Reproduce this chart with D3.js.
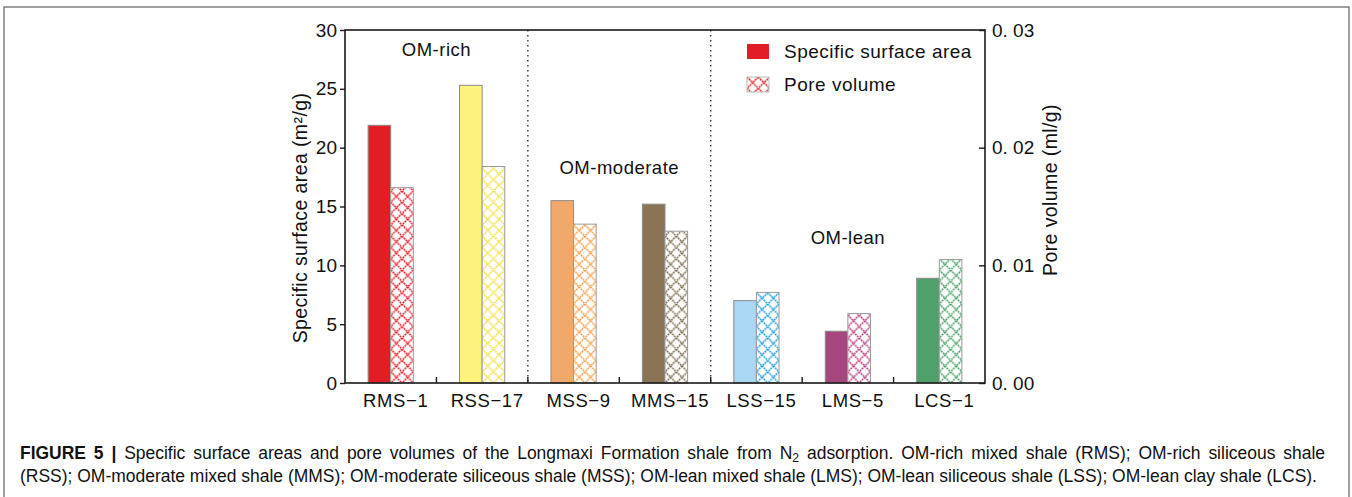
<!DOCTYPE html>
<html>
<head>
<meta charset="utf-8">
<script src="https://cdn.jsdelivr.net/npm/d3@7"></script>
<style>
  html, body { margin: 0; padding: 0; background: #fff; }
  svg { display: block; }
  text { font-family: "Liberation Sans", Arial, sans-serif; fill: #111; }
</style>
</head>
<body>
<svg id="chart" width="1352" height="497"></svg>
<script>
// Samples and measured values (N2 adsorption)
const categories = ["RMS\u22121", "RSS\u221217", "MSS\u22129", "MMS\u221215", "LSS\u221215", "LMS\u22125", "LCS\u22121"];
const surfaceArea = [21.9, 25.3, 15.5, 15.2, 7.0, 4.4, 8.9];          // m²/g
const poreVolume = [0.0166, 0.0184, 0.0135, 0.0129, 0.0077, 0.0059, 0.0105]; // ml/g
const solidColors = ["#e31d25", "#fdf27b", "#f0a96b", "#8a7455", "#aad7f3", "#a6467f", "#50a06b"];
const hatchColors = ["#e61c26", "#f2e040", "#f69d45", "#7f6a4c", "#1f9be3", "#b93a82", "#45a064"];
const leftTicks = [0, 5, 10, 15, 20, 25, 30];
const rightTicks = [0, 0.01, 0.02, 0.03];
const groupNames = ["OM-rich", "OM-moderate", "OM-lean"];
const legendLabels = ["Specific surface area", "Pore volume"];

const svg = d3.select("#chart");
const defs = svg.append("defs");

// outer figure frame
svg.append("rect")
  .attr("x", 4).attr("y", 7).attr("width", 1345).attr("height", 500)
  .attr("fill", "none").attr("stroke", "#777").attr("stroke-width", 1.4);

const plot = { left: 345, right: 985, top: 30, bottom: 383 };

const x = d3.scaleBand().domain(categories).range([plot.left, plot.right]).padding(0);
const yL = d3.scaleLinear().domain([0, 30]).range([plot.bottom, plot.top]);
const yR = d3.scaleLinear().domain([0, 0.03]).range([plot.bottom, plot.top]);
const barW = 22.6;

// diamond lattice pattern for the pore-volume bars
function makeHatch(id, color, x0, y0) {
  const s = barW / 2;
  const p = defs.append("pattern")
    .attr("id", id).attr("patternUnits", "userSpaceOnUse")
    .attr("x", x0).attr("y", y0).attr("width", s).attr("height", s);
  p.append("rect").attr("width", s).attr("height", s).attr("fill", "#fff");
  [[0, 0, s, s], [s, 0, 0, s]].forEach(l => {
    p.append("line")
      .attr("x1", l[0]).attr("y1", l[1]).attr("x2", l[2]).attr("y2", l[3])
      .attr("stroke", color).attr("stroke-width", 1.6)
      .attr("stroke-dasharray", "1.8,0.8");
  });
}

categories.forEach((c, i) => {
  makeHatch("hatch" + i, hatchColors[i], x(c) + x.bandwidth() / 2, plot.bottom);
});
makeHatch("hatchLegend", hatchColors[0], 747, 77);

// group separators (dotted)
[2, 4].forEach(i => {
  const bx = x(categories[i]);
  svg.append("line")
    .attr("x1", bx).attr("x2", bx).attr("y1", plot.top).attr("y2", plot.bottom)
    .attr("stroke", "#333").attr("stroke-width", 1.4)
    .attr("stroke-dasharray", "1.4,3.6");
});

const cx = c => x(c) + x.bandwidth() / 2;

// specific surface area bars
svg.append("g").selectAll("rect")
  .data(categories)
  .join("rect")
  .attr("x", c => cx(c) - barW)
  .attr("y", (c, i) => yL(surfaceArea[i]))
  .attr("width", barW)
  .attr("height", (c, i) => plot.bottom - yL(surfaceArea[i]))
  .attr("fill", (c, i) => solidColors[i])
  .attr("stroke", "#8c8c8c").attr("stroke-width", 1);

// pore volume bars
svg.append("g").selectAll("rect")
  .data(categories)
  .join("rect")
  .attr("x", c => cx(c))
  .attr("y", (c, i) => yR(poreVolume[i]))
  .attr("width", barW)
  .attr("height", (c, i) => plot.bottom - yR(poreVolume[i]))
  .attr("fill", (c, i) => `url(#hatch${i})`)
  .attr("stroke", "#9a9a9a").attr("stroke-width", 1);

// plot frame
svg.append("rect")
  .attr("x", plot.left).attr("y", plot.top)
  .attr("width", plot.right - plot.left).attr("height", plot.bottom - plot.top)
  .attr("fill", "none").attr("stroke", "#1a1a1a").attr("stroke-width", 1.6);

// left axis
const axL = svg.append("g").attr("transform", `translate(${plot.left},0)`)
  .call(d3.axisLeft(yL).tickValues(leftTicks).tickSize(5).tickPadding(3).tickFormat(d3.format("d")));
axL.select(".domain").remove();
axL.selectAll(".tick line").attr("stroke", "#1a1a1a").attr("stroke-width", 1.4);
axL.selectAll(".tick text").attr("font-size", 19).attr("font-family", "Liberation Sans, Arial, sans-serif").attr("fill", "#111");

// right axis, ticks pointing inward
const fmtR = d => d3.format(".2f")(d).replace(".", ". ");
const axR = svg.append("g").attr("transform", `translate(${plot.right},0)`)
  .call(d3.axisRight(yR).tickValues(rightTicks).tickSize(-6).tickPadding(7).tickFormat(fmtR));
axR.select(".domain").remove();
axR.selectAll(".tick line").attr("stroke", "#1a1a1a").attr("stroke-width", 1.4);
axR.selectAll(".tick text").attr("font-size", 19).attr("font-family", "Liberation Sans, Arial, sans-serif").attr("fill", "#111");

// bottom axis: labels at category centres, ticks at category boundaries
svg.append("g").selectAll("line")
  .data(categories.slice(1))
  .join("line")
  .attr("x1", c => x(c)).attr("x2", c => x(c))
  .attr("y1", plot.bottom).attr("y2", plot.bottom - 6)
  .attr("stroke", "#1a1a1a").attr("stroke-width", 1.4);

svg.append("g").selectAll("text")
  .data(categories)
  .join("text")
  .attr("x", c => cx(c) + 5)
  .attr("y", 407)
  .attr("text-anchor", "middle")
  .attr("font-size", 18.5)
  .attr("letter-spacing", 0.6)
  .text(c => c);

// axis titles
svg.append("text")
  .attr("transform", "translate(307,218) rotate(-90)")
  .attr("text-anchor", "middle").attr("font-size", 19.5).attr("letter-spacing", 0.4)
  .text("Specific surface area (m²/g)");

svg.append("text")
  .attr("transform", "translate(1057,190) rotate(-90)")
  .attr("text-anchor", "middle").attr("font-size", 19.5).attr("letter-spacing", 0.4)
  .text("Pore volume (ml/g)");

// group annotations
const groupAnchors = [
  { x: x(categories[1]), v: 27.8 },
  { x: x(categories[3]), v: 17.75 },
  { x: cx(categories[5]), v: 11.8 }
];
svg.append("g").selectAll("text")
  .data(groupNames)
  .join("text")
  .attr("x", (d, i) => groupAnchors[i].x)
  .attr("y", (d, i) => yL(groupAnchors[i].v))
  .attr("text-anchor", "middle")
  .attr("font-size", 18.5).attr("letter-spacing", 0.5)
  .text(d => d);

// legend
const leg = svg.append("g");
leg.append("rect").attr("x", 747).attr("y", 44).attr("width", 22).attr("height", 15)
  .attr("fill", solidColors[0]);
leg.append("rect").attr("x", 747).attr("y", 77).attr("width", 22).attr("height", 15)
  .attr("fill", "url(#hatchLegend)").attr("stroke", "#bbb").attr("stroke-width", 1);
leg.selectAll("text.lg")
  .data(legendLabels)
  .join("text")
  .attr("class", "lg")
  .attr("x", 784)
  .attr("y", (d, i) => 58 + i * 32.5)
  .attr("font-size", 19).attr("letter-spacing", 0.5)
  .text(d => d);

// caption (justified first line)
const cap = svg.append("g").attr("class", "caption");
const line1 = cap.append("text").attr("x", 20).attr("y", 459);
line1.append("tspan").attr("font-weight", "bold").text("FIGURE 5 | ");
line1.append("tspan").text("Specific surface areas and pore volumes of the Longmaxi Formation shale from N");
line1.append("tspan").attr("dy", 3).attr("font-size", "0.7em").text("2");
line1.append("tspan").attr("dy", -3).text(" adsorption. OM-rich mixed shale (RMS); OM-rich siliceous shale");
const line2 = cap.append("text").attr("x", 20).attr("y", 482)
  .text("(RSS); OM-moderate mixed shale (MMS); OM-moderate siliceous shale (MSS); OM-lean mixed shale (LMS); OM-lean siliceous shale (LSS); OM-lean clay shale (LCS).");

// size the caption so the second line spans the text block width
const baseSize = 16;
cap.selectAll("text").attr("font-size", baseSize).attr("fill", "#222");
const len = line2.node().getComputedTextLength();
const fitted = baseSize * 1298 / len;
cap.selectAll("text").attr("font-size", fitted);
line1.select("tspan:nth-child(3)").attr("font-size", fitted * 0.7);

// spread the words of the first line to the full block width
const l1 = line1.node().getComputedTextLength();
const spaces = (line1.text().match(/ /g) || []).length;
line1.attr("word-spacing", Math.max(0, (1305 - l1) / spaces));
</script>
</body>
</html>
